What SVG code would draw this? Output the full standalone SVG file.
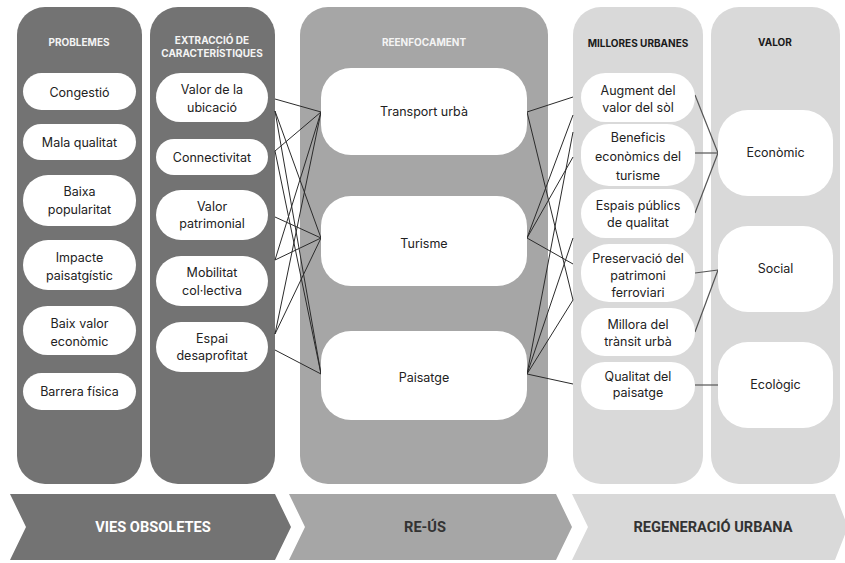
<svg xmlns="http://www.w3.org/2000/svg" width="845" height="563" viewBox="0 0 845 563">
<style>
.c1{fill:#737373}.c2{fill:#a6a6a6}.c3{fill:#d9d9d9}
.n{fill:#ffffff}
.t{font-family:Inter,"Liberation Sans",sans-serif;font-size:12.5px;fill:#222;text-anchor:middle}
.h{font-family:Inter,"Liberation Sans",sans-serif;font-size:10px;font-weight:700;text-anchor:middle}
.hw{fill:#f4f4f4}.hd{fill:#1a1a1a}
.b{font-family:Roboto,"Liberation Sans",sans-serif;font-size:14.6px;font-weight:700;text-anchor:middle}
.ln{stroke:#2b2b2b;stroke-width:1;fill:none}
.lv{stroke:#555;stroke-width:1.2;fill:none}
</style>
<rect width="845" height="563" fill="#ffffff"/>
<g id="col-problemes">
<rect class="c1" x="17" y="7" width="125" height="477" rx="28"/>
<text class="h hw" x="79" y="46">PROBLEMES</text>
</g>
<g id="col-extraccio">
<rect class="c1" x="150" y="7" width="125" height="477" rx="28"/>
<text class="h hw" x="212" y="44">EXTRACCIÓ DE</text>
<text class="h hw" x="212" y="57">CARACTERÍSTIQUES</text>
</g>
<g id="col-reenfocament">
<rect class="c2" x="300" y="7" width="248" height="477" rx="28"/>
<text class="h hw" x="424" y="46">REENFOCAMENT</text>
</g>
<g id="col-millores">
<rect class="c3" x="573" y="7" width="130" height="477" rx="28"/>
<text class="h hd" x="638" y="47">MILLORES URBANES</text>
</g>
<g id="col-valor">
<rect class="c3" x="711" y="7" width="129" height="477" rx="28"/>
<text class="h hd" x="775" y="46">VALOR</text>
</g>

<g id="connectors">
<line class="ln" x1="275" y1="99" x2="321" y2="112"/>
<line class="ln" x1="275" y1="111" x2="321" y2="238"/>
<line class="ln" x1="275" y1="111" x2="321" y2="374"/>
<line class="ln" x1="275" y1="151" x2="321" y2="112"/>
<line class="ln" x1="275" y1="151" x2="321" y2="374"/>
<line class="ln" x1="275" y1="217" x2="321" y2="238"/>
<line class="ln" x1="275" y1="260" x2="321" y2="112"/>
<line class="ln" x1="275" y1="260" x2="321" y2="238"/>
<line class="ln" x1="275" y1="334" x2="321" y2="112"/>
<line class="ln" x1="275" y1="334" x2="321" y2="238"/>
<line class="ln" x1="275" y1="350" x2="321" y2="374"/>
<line class="ln" x1="527" y1="112" x2="573" y2="97"/>
<line class="ln" x1="527" y1="112" x2="573" y2="300"/>
<line class="ln" x1="527" y1="238" x2="573" y2="115"/>
<line class="ln" x1="527" y1="238" x2="573" y2="157"/>
<line class="ln" x1="527" y1="238" x2="573" y2="264"/>
<line class="ln" x1="527" y1="374" x2="573" y2="132"/>
<line class="ln" x1="527" y1="374" x2="573" y2="238"/>
<line class="ln" x1="527" y1="374" x2="573" y2="300"/>
<line class="ln" x1="527" y1="374" x2="573" y2="384"/>
<line class="lv" x1="695" y1="95" x2="718" y2="153"/>
<line class="lv" x1="695" y1="153" x2="718" y2="153"/>
<line class="lv" x1="695" y1="213" x2="718" y2="153"/>
<line class="lv" x1="695" y1="273" x2="718" y2="270"/>
<line class="lv" x1="695" y1="332" x2="718" y2="270"/>
<line class="lv" x1="695" y1="385" x2="718" y2="385"/>
</g>

<g id="p-congestio"><rect class="n" x="23" y="73" width="113" height="37" rx="18.5"/><text class="t" x="79.5" y="97">Congestió</text></g>
<g id="p-mala"><rect class="n" x="23" y="124" width="113" height="36" rx="18"/><text class="t" x="79.5" y="146.5">Mala qualitat</text></g>
<g id="p-baixa"><rect class="n" x="23" y="175" width="113" height="51" rx="25"/><text class="t" x="79.5" y="195.5">Baixa</text><text class="t" x="79.5" y="213.5">popularitat</text></g>
<g id="p-impacte"><rect class="n" x="23" y="240" width="113" height="50" rx="25"/><text class="t" x="79.5" y="261.5">Impacte</text><text class="t" x="79.5" y="279.5">paisatgístic</text></g>
<g id="p-baix"><rect class="n" x="23" y="306" width="113" height="49" rx="24.5"/><text class="t" x="79.5" y="327.5">Baix valor</text><text class="t" x="79.5" y="345.5">econòmic</text></g>
<g id="p-barrera"><rect class="n" x="23" y="373" width="113" height="37" rx="18.5"/><text class="t" x="79.5" y="395.5">Barrera física</text></g>

<g id="e-ubicacio"><rect class="n" x="156" y="73" width="112" height="49" rx="24.5"/><text class="t" x="212" y="93.5">Valor de la</text><text class="t" x="212" y="111.5">ubicació</text></g>
<g id="e-connectivitat"><rect class="n" x="156" y="139" width="112" height="36" rx="18"/><text class="t" x="212" y="161.5">Connectivitat</text></g>
<g id="e-patrimonial"><rect class="n" x="156" y="190" width="112" height="50" rx="25"/><text class="t" x="212" y="210.5">Valor</text><text class="t" x="212" y="227.5">patrimonial</text></g>
<g id="e-mobilitat"><rect class="n" x="156" y="256" width="112" height="50" rx="25"/><text class="t" x="212" y="276.5">Mobilitat</text><text class="t" x="212" y="294.5">col·lectiva</text></g>
<g id="e-espai"><rect class="n" x="156" y="322" width="112" height="50" rx="25"/><text class="t" x="212" y="342.5">Espai</text><text class="t" x="212" y="359.5">desaprofitat</text></g>

<g id="r-transport"><rect class="n" x="321" y="68" width="206" height="87" rx="30"/><text class="t" x="424" y="115.5">Transport urbà</text></g>
<g id="r-turisme"><rect class="n" x="321" y="196" width="206" height="90" rx="30"/><text class="t" x="424" y="247.5">Turisme</text></g>
<g id="r-paisatge"><rect class="n" x="321" y="331" width="206" height="89" rx="30"/><text class="t" x="424" y="381.5">Paisatge</text></g>

<g id="m-augment"><rect class="n" x="581" y="73" width="114" height="49" rx="24.5"/><text class="t" x="638" y="94.5">Augment del</text><text class="t" x="638" y="111.5">valor del sòl</text></g>
<g id="m-beneficis"><rect class="n" x="581" y="124" width="114" height="62" rx="28"/><text class="t" x="638" y="141.5">Beneficis</text><text class="t" x="638" y="160.5">econòmics del</text><text class="t" x="638" y="179.5">turisme</text></g>
<g id="m-espais"><rect class="n" x="581" y="189" width="114" height="49" rx="24.5"/><text class="t" x="638" y="209.5">Espais públics</text><text class="t" x="638" y="226.5">de qualitat</text></g>
<g id="m-preservacio"><rect class="n" x="581" y="244" width="114" height="58" rx="28"/><text class="t" x="638" y="262.5">Preservació del</text><text class="t" x="638" y="279.5">patrimoni</text><text class="t" x="638" y="296.5">ferroviari</text></g>
<g id="m-millora"><rect class="n" x="581" y="308" width="114" height="48" rx="24"/><text class="t" x="638" y="328.5">Millora del</text><text class="t" x="638" y="345.5">trànsit urbà</text></g>
<g id="m-qualitat"><rect class="n" x="581" y="362" width="114" height="48" rx="24"/><text class="t" x="638" y="380.5">Qualitat del</text><text class="t" x="638" y="396.5">paisatge</text></g>

<g id="v-economic"><rect class="n" x="718" y="110" width="115" height="86" rx="30"/><text class="t" x="775.5" y="156.5">Econòmic</text></g>
<g id="v-social"><rect class="n" x="718" y="226" width="115" height="86" rx="30"/><text class="t" x="775.5" y="272.5">Social</text></g>
<g id="v-ecologic"><rect class="n" x="718" y="342" width="115" height="86" rx="30"/><text class="t" x="775.5" y="388.5">Ecològic</text></g>

<g id="stage-vies">
<polygon class="c1" points="10,494 275,494 291,527 275,560 10,560 26,527"/>
<text class="b" x="153" y="532" fill="#ffffff">VIES OBSOLETES</text>
</g>
<g id="stage-reus">
<polygon class="c2" points="289,494 556,494 572,527 556,560 289,560 305,527"/>
<text class="b" x="425" y="532" fill="#333333">RE-ÚS</text>
</g>
<g id="stage-regeneracio">
<polygon class="c3" points="572,494 835,494 848,527 835,560 572,560 588,527"/>
<text class="b" x="713" y="532" fill="#333333">REGENERACIÓ URBANA</text>
</g>
</svg>
